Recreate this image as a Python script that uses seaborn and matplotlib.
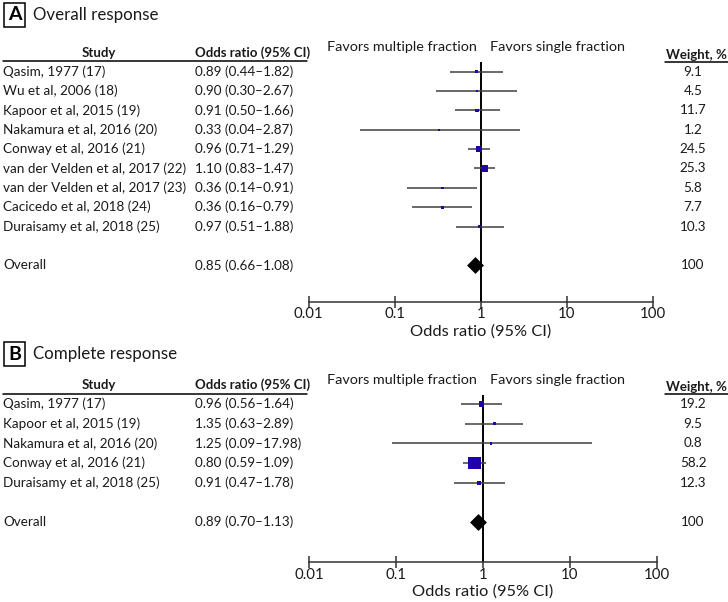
import numpy as np
import pandas as pd
import matplotlib
matplotlib.use("Agg")
import matplotlib.pyplot as plt
import seaborn as sns
from matplotlib.transforms import blended_transform_factory
from matplotlib.lines import Line2D

# ---------------- data ----------------
a_studies = ["Qasim, 1977 (17)", "Wu et al, 2006 (18)", "Kapoor et al, 2015 (19)",
             "Nakamura et al, 2016 (20)", "Conway et al, 2016 (21)",
             "van der Velden et al, 2017 (22)", "van der Velden et al, 2017 (23)",
             "Cacicedo et al, 2018 (24)", "Duraisamy et al, 2018 (25)"]
a_or = [0.89, 0.90, 0.91, 0.33, 0.96, 1.10, 0.36, 0.36, 0.97]
a_lo = [0.44, 0.30, 0.50, 0.04, 0.71, 0.83, 0.14, 0.16, 0.51]
a_hi = [1.82, 2.67, 1.66, 2.87, 1.29, 1.47, 0.91, 0.79, 1.88]
a_weight = [9.1, 4.5, 11.7, 1.2, 24.5, 25.3, 5.8, 7.7, 10.3]
a_overall = [0.85, 0.66, 1.08]

b_studies = ["Qasim, 1977 (17)", "Kapoor et al, 2015 (19)", "Nakamura et al, 2016 (20)",
             "Conway et al, 2016 (21)", "Duraisamy et al, 2018 (25)"]
b_or = [0.96, 1.35, 1.25, 0.80, 0.91]
b_lo = [0.56, 0.63, 0.09, 0.59, 0.47]
b_hi = [1.64, 2.89, 17.98, 1.09, 1.78]
b_weight = [19.2, 9.5, 0.8, 58.2, 12.3]
b_overall = [0.89, 0.70, 1.13]

x_ticks = [0.01, 0.1, 1, 10, 100]
x_ticklabels = ["0.01", "0.1", "1", "10", "100"]

# ---------------- style ----------------
W, H = 728, 602
sns.set_style("white")
plt.rcParams["font.family"] = ["Lato", "DejaVu Sans"]
TXT = "#1a1a1a"
SQ = "#2200AA"
CI = "#404040"
FS = 9.75
FSB = 9.5

fig = plt.figure(figsize=(W / 100, H / 100), dpi=100)


def fx(px):
    return px / W


def fy(py):
    return 1 - py / H


def fmt(v):
    return f"{v:.2f}"


def panel(letter, title, title_py, studies, ors, los, his, weights, overall,
          x0, x1, ytop, ybot, row0, rowh):
    n = len(studies)
    ov_row = n + 1
    ax = fig.add_axes([fx(x0), fy(ybot), fx(x1 - x0), (ybot - ytop) / H])
    df = pd.DataFrame({"row": np.arange(n), "or": ors, "lo": los, "hi": his, "w": weights})
    ax.set_xscale("log")
    ax.set_xlim(0.01, 100)
    ax.set_ylim((ybot - row0) / rowh, (ytop - row0) / rowh)

    ax.axvline(1, color="black", lw=1.4, zorder=1)
    ax.hlines(df["row"], df["lo"], df["hi"], color=CI, lw=1.1, zorder=2)
    size_map = {w: (0.72 * max(2.3, 0.6 * w ** 0.75)) ** 2 for w in df["w"]}
    sns.scatterplot(data=df, x="or", y="row", size="w", sizes=size_map, marker="s",
                    color=SQ, linewidth=0, legend=False, ax=ax, zorder=3)
    ov = pd.DataFrame({"or": [overall[0]], "row": [ov_row]})
    sns.scatterplot(data=ov, x="or", y="row", marker="D", s=74, color="black",
                    linewidth=0, legend=False, ax=ax, zorder=4)

    for s in ["top", "right", "left"]:
        ax.spines[s].set_visible(False)
    ax.spines["bottom"].set_color("#333333")
    ax.spines["bottom"].set_linewidth(1.1)
    ax.set_xticks(x_ticks)
    ax.set_xticklabels(x_ticklabels)
    ax.xaxis.set_minor_locator(matplotlib.ticker.NullLocator())
    ax.tick_params(axis="x", direction="inout", length=8, width=1.1, color="#333333",
                   labelsize=10.8, labelcolor=TXT, pad=0, bottom=True)
    ax.set_yticks([])
    ax.set_ylabel("")
    ax.set_xlabel("Odds ratio (95% CI)", fontsize=11.8, color=TXT, labelpad=2)
    ax.patch.set_alpha(0)

    tr = blended_transform_factory(fig.transFigure, ax.transData)
    for i in range(n):
        fig.text(fx(3), i, studies[i], transform=tr, fontsize=FS, color=TXT, va="center")
        fig.text(fx(195), i, f"{fmt(ors[i])} ({fmt(los[i])}\u2013{fmt(his[i])})",
                 transform=tr, fontsize=FS, color=TXT, va="center")
        fig.text(fx(693), i, f"{weights[i]:.1f}", transform=tr, fontsize=FS,
                 color=TXT, va="center", ha="center")
    fig.text(fx(3), ov_row, "Overall", transform=tr, fontsize=FS, color=TXT, va="center")
    fig.text(fx(195), ov_row,
             f"{fmt(overall[0])} ({fmt(overall[1])}\u2013{fmt(overall[2])})",
             transform=tr, fontsize=FS, color=TXT, va="center")
    fig.text(fx(693), ov_row, "100", transform=tr, fontsize=FS, color=TXT,
             va="center", ha="center")

    # headers
    hy = fy(row0 - 19)
    fig.text(fx(99), hy, "Study", fontsize=FSB, fontweight="bold", color=TXT,
             ha="center", va="center")
    fig.text(fx(195), hy, "Odds ratio (95% CI)", fontsize=FSB, fontweight="bold",
             color=TXT, va="center")
    fig.text(fx(727), hy - 0.003, "Weight, %", fontsize=FSB, fontweight="bold", color=TXT,
             ha="right", va="center")
    fy_fav = fy(row0 - 24.5)
    fig.text(fx(477), fy_fav, "Favors multiple fraction", fontsize=10.4, color=TXT,
             ha="right", va="center")
    fig.text(fx(490), fy_fav, "Favors single fraction", fontsize=10.4, color=TXT,
             ha="left", va="center")
    ul = fy(row0 - 10.5)
    fig.add_artist(Line2D([fx(3), fx(307)], [ul, ul], color="black", lw=1.1))
    fig.add_artist(Line2D([fx(665), fx(728)], [ul - 0.001, ul - 0.001], color="black", lw=1.1))

    # panel title
    fig.text(fx(8), fy(title_py), letter, fontsize=14, fontweight="bold", color="black",
             va="center", ha="left",
             bbox=dict(boxstyle="square,pad=0.2", fc="white", ec="black", lw=1.1))
    fig.text(fx(33), fy(title_py), title, fontsize=12.2, color=TXT, va="center", ha="left")
    return ax


panel("A", "Overall response", 15, a_studies, a_or, a_lo, a_hi, a_weight, a_overall,
      308.7, 652.7, 61.7, 301.7, 71.7, 19.36)
panel("B", "Complete response", 354, b_studies, b_or, b_lo, b_hi, b_weight, b_overall,
      309, 656.7, 395, 562.3, 404, 19.7)

fig.savefig("out.png", dpi=100)
